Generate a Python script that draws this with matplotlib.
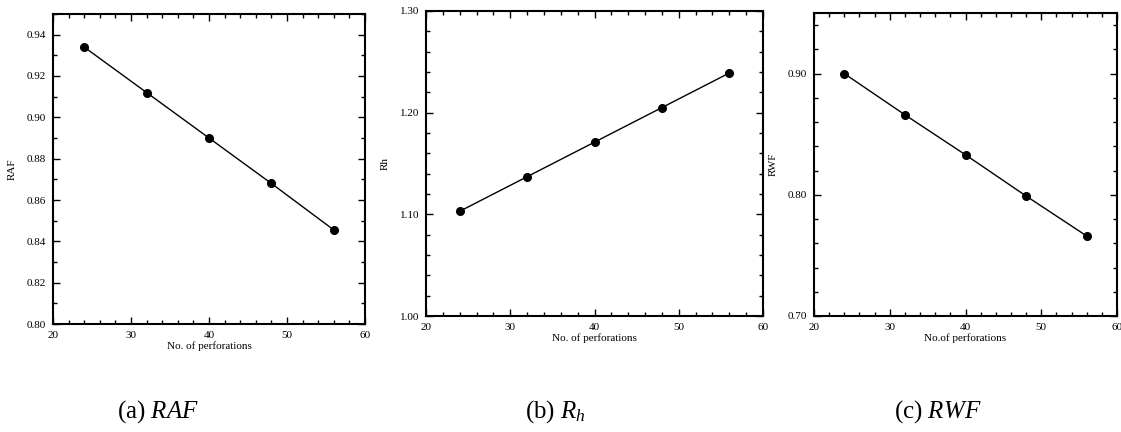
import numpy as np
import matplotlib
matplotlib.use("Agg")
from matplotlib import pyplot as plt
from matplotlib.ticker import MultipleLocator, FormatStrFormatter

plt.rcParams['font.family'] = ['Liberation Serif', 'DejaVu Serif']
plt.rcParams['mathtext.fontset'] = 'custom'
plt.rcParams['mathtext.rm'] = 'Liberation Serif'
plt.rcParams['mathtext.it'] = 'Liberation Serif:italic'

# data
perforations = [24, 32, 40, 48, 56]
raf = [0.934, 0.912, 0.890, 0.868, 0.8455]
rh = [1.103, 1.137, 1.171, 1.205, 1.239]
rwf = [0.900, 0.866, 0.833, 0.799, 0.766]

y_labels = ["RAF", "Rh", "RWF"]
x_labels = ["No. of perforations", "No. of perforations", "No.of perforations"]
captions = [r"(a) $RAF$", r"(b) $R_h$", r"(c) $RWF$"]
caption_x = [158, 555, 938]

# axes boxes in pixels: left, right, top, bottom
boxes = [(53, 365, 14, 324), (426, 763, 11, 316), (814, 1117, 13, 316)]
ylims = [(0.80, 0.95), (1.00, 1.30), (0.70, 0.95)]
y_major = [0.02, 0.10, 0.10]
y_minor = [0.01, 0.02, 0.02]
series = [raf, rh, rwf]

W, H = 1121, 432
fig = plt.figure(figsize=(W / 100, H / 100), dpi=100)

for i in range(3):
    l, r, t, b = boxes[i]
    ax = fig.add_axes([l / W, (H - b) / H, (r - l) / W, (b - t) / H])
    ax.plot(perforations, series[i], color='black', lw=1.0,
            marker='o', markersize=5.5, markerfacecolor='black')
    ax.set_xlim(20, 60)
    ax.set_ylim(*ylims[i])
    ax.xaxis.set_major_locator(MultipleLocator(10))
    ax.xaxis.set_minor_locator(MultipleLocator(2))
    ax.yaxis.set_major_locator(MultipleLocator(y_major[i]))
    ax.yaxis.set_minor_locator(MultipleLocator(y_minor[i]))
    ax.yaxis.set_major_formatter(FormatStrFormatter('%.2f'))
    ax.tick_params(which='both', direction='in', top=True, right=True,
                   labelsize=8, pad=5, width=1.0)
    ax.tick_params(which='major', length=5)
    ax.tick_params(which='minor', length=3)
    for s in ax.spines.values():
        s.set_linewidth(1.5)
    ax.set_xlabel(x_labels[i], fontsize=8, labelpad=1)
    ax.set_ylabel(y_labels[i], fontsize=8, labelpad=7)
    fig.text(caption_x[i] / W, 1 - 412 / H, captions[i], fontsize=18,
             ha='center', va='center')

fig.savefig("out.png", dpi=100)
